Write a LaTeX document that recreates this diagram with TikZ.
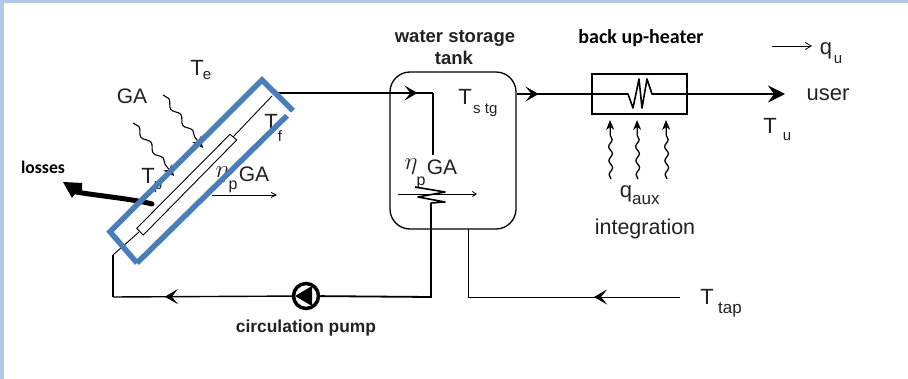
\documentclass[tikz,border=0pt]{standalone}
\usepackage{fontspec}
\setmainfont{Liberation Sans}
\newfontfamily\carlitofont{Carlito}
\usetikzlibrary{arrows.meta,decorations.pathmorphing,decorations.markings}
\definecolor{framec}{HTML}{B4C7E7}
\definecolor{bluec}{HTML}{4A7EBB}
\definecolor{inkc}{HTML}{222222}
\tikzset{
  x=1pt,y=-1pt,
  pipe/.style={draw=black,line width=1.8pt},
  thin pipe/.style={draw=black,line width=0.9pt},
  lbl/.style={inner sep=0pt,text=inkc,font=\fontsize{22}{24}\selectfont},
  sub/.style={inner sep=0pt,text=inkc,font=\fontsize{15}{17}\selectfont},
  boldlbl/.style={inner sep=0pt,text=inkc,font=\fontsize{18.5}{20}\selectfont\bfseries},
  callbl/.style={inner sep=0pt,text=black,font=\carlitofont\fontsize{20}{22}\selectfont\bfseries},
  flowtip/.style={postaction={decorate},decoration={markings,mark=at position #1 with {\arrow{Stealth[length=13pt,width=15pt,inset=6pt]}}}},
  wavy/.style={draw=black,line width=1.3pt,-{Stealth[length=10pt,width=8pt]},decorate,decoration={snake,amplitude=1.8pt,segment length=14pt,post length=9pt}},
  slant wavy/.style={draw=black,line width=1.1pt,-{Stealth[length=11pt,width=10pt]},decorate,decoration={snake,amplitude=2.5pt,segment length=20pt,post length=10pt}},
  openarrow/.style={draw=black,line width=.8pt,-{Straight Barb[length=6pt,width=7pt]}},
  blueframe/.style={draw=bluec,line width=5.5pt},
  zig/.style={draw=black,line width=1.6pt,line join=round},
}
\begin{document}
\begin{tikzpicture}
\useasboundingbox (0,0) rectangle (908,379);
\fill[white] (0,0) rectangle (908,379);
\fill[framec] (0,0) rectangle (908,3);
\fill[framec] (0,0) rectangle (4,379);

% collector coordinates
\coordinate (tubeA) at (113,255);
\coordinate (tubeB) at (272,96);
\coordinate (pipeOut) at (278,93);
\coordinate (tankIn) at (433,93);
\coordinate (coilTop) at (433,155);
\coordinate (coilBot) at (431,203);
\coordinate (loopBR) at (431,297);
\coordinate (loopBL) at (113,297);
\node[draw=black,fill=white,circle,line width=3.5pt,minimum size=25pt,inner sep=0pt] (pump) at (306,296) {};
\fill[black] (295,296) -- (312,286) -- (312,306) -- cycle;

% absorber and tube
\draw[thin pipe] (tubeA) -- (139,232);
\draw[thin pipe] (233,137) -- (tubeB);
\draw[thin pipe] (136.7,228.3) -- (230,134.3) -- (236.7,140) -- (143.3,235) -- cycle;

% loop pipes
\draw[pipe,flowtip=0.9] (pipeOut) -- (tankIn);
\draw[pipe] (tankIn) -- (coilTop);
\draw[pipe] (coilBot) -- (loopBR) -- (pump);
\draw[pipe,line width=1.4pt,flowtip=0.71] (pump) -- (loopBL);
\draw[pipe,line width=1.4pt] (loopBL) -- (tubeA);

% tank
\node[draw=black,line width=1.3pt,rounded corners=20pt,minimum width=126pt,minimum height=157pt,inner sep=0pt] (tank) at (453,150.5) {};
\node[boldlbl] (tanklbl) at (455,38) {water storage};
\node[boldlbl] (tanklbltwo) at (454,57.5) {tank};
\node[lbl] (tstgT) at (465,97) {T};
\node[sub,anchor=west] (tstgS) at (473,110) {s tg};
% coil
\node[lbl,font=\fontsize{30}{32}\selectfont] (etaA) at (411,167) {$\eta$};
\node[sub,font=\fontsize{16}{18}\selectfont] (etaAs) at (421,183) {p};
\node[lbl,font=\fontsize{21}{23}\selectfont] (gaA) at (442,167) {GA};
\draw[line width=.8pt,-{Straight Barb[length=4pt,width=5pt]}] (398,194) -- (477,194);
\draw[zig] (415,187) -- (445,192) -- (418,197) -- (445,202) -- (431,203);

% cold water in
\coordinate (tapEnd) at (680,297);
\draw[thin pipe,flowtip=0.307] (tapEnd) -- (468,297) -- (468,229);
\node[lbl] (ttapT) at (707,297) {T};
\node[sub,font=\fontsize{17}{19}\selectfont] (ttapS) at (730,310) {tap};

% outlet and heater
\node[draw=black,line width=1.7pt,minimum width=95pt,minimum height=40pt,inner sep=0pt] (heater) at (639.5,94) {};
\draw[pipe,line width=1.4pt,flowtip=0.29] (tank.east |- 0,94) -- (592,94);
\draw[zig] (592,94) -- (628,94) -- (633,108) -- (639,79) -- (642,108) -- (647,79) -- (652,94) -- (687,94);
\draw[pipe,-{Stealth[length=17pt,width=17pt,inset=6pt]}] (687,94) -- (785,94);
\node[callbl] (heaterlbl) at (641,38) {back up-heater};
\draw[wavy] (611,179) -- (610,120);
\draw[wavy] (638,179) -- (637,120);
\draw[wavy] (667,179) -- (666,120);
\node[lbl] (qauxQ) at (626,194) {q};
\node[sub,font=\fontsize{17}{19}\selectfont,anchor=west] (qauxS) at (632,200) {aux};
\node[lbl,font=\fontsize{21.5}{24}\selectfont] (integ) at (645,229) {integration};
\node[lbl] (tuT) at (770,126) {T};
\node[sub] (tuS) at (787,137) {u};
\node[lbl] (user) at (828,95) {user};
\coordinate (quA) at (772,46);
\coordinate (quB) at (812,46);
\draw[openarrow] (quA) -- (quB);
\node[lbl] (quQ) at (826,51) {q};
\node[sub] (quS) at (838,60) {u};

% pump label
\node[boldlbl,font=\fontsize{17.4}{19}\selectfont\bfseries] (pumplbl) at (306,328) {circulation pump};

% collector labels
\node[lbl,font=\fontsize{21}{23}\selectfont] (ga) at (132,96) {GA};
\node[lbl] (teT) at (197,68) {T};
\node[sub] (teS) at (207,76) {e};
\draw[slant wavy] (163,95) -- (203,148);
\draw[slant wavy] (133,123) -- (174,176);
\node[lbl] (tpT) at (148,176) {T};
\node[sub] (tpS) at (158,187) {p};
\node[lbl] (tfT) at (271,122) {T};
\node[sub] (tfS) at (280,136) {f};
\node[lbl,font=\fontsize{30}{32}\selectfont] (etaB) at (222,175) {$\eta$};
\node[sub,font=\fontsize{16}{18}\selectfont] (etaBs) at (233,187) {p};
\node[lbl,font=\fontsize{21}{23}\selectfont] (gaB) at (254,174) {GA};
\draw[line width=.8pt,-{Straight Barb[length=5pt,width=5pt]}] (212,195) -- (277,195);

% losses
\node[callbl,font=\carlitofont\fontsize{17.7}{19}\selectfont\bfseries] (losses) at (43,167) {losses};
\coordinate (lossA) at (152,204);
\coordinate (lossB) at (76,192);
\draw[black,line width=5pt,line cap=round] (lossA) .. controls (133,199) and (100,196) .. (lossB);
\fill[black] (63,182) -- (82,183) -- (82,191) -- (75,194) -- (72,198) -- cycle;

% blue outline
\coordinate (bA) at (287,115.7);
\coordinate (bB) at (137,263);
\coordinate (bC) at (110,231.7);
\coordinate (bD) at (262,80);
\coordinate (bE) at (293,110.7);
\draw[blueframe] (bA) -- (bB);
\draw[blueframe] (bB) -- (bC) -- (bD) -- (bE);
\end{tikzpicture}
\end{document}
